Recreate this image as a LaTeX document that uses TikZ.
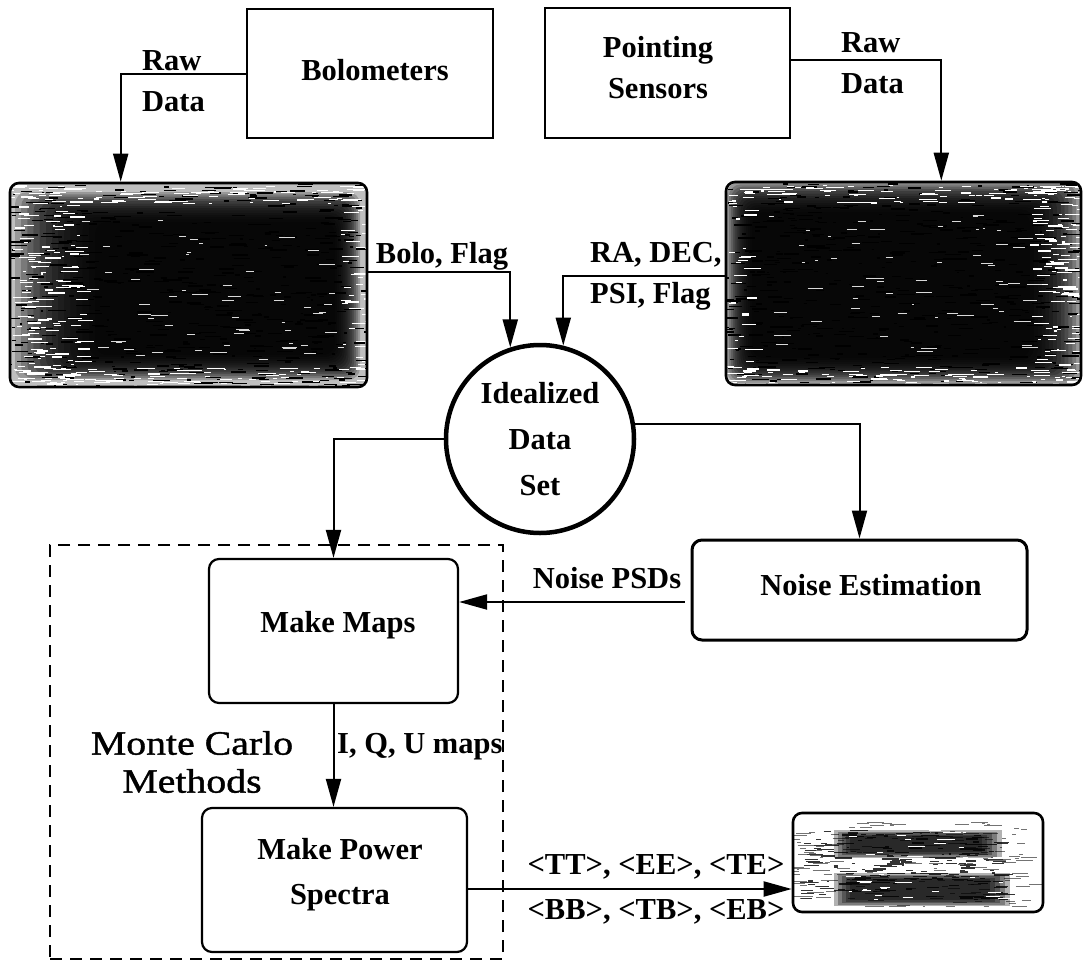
\documentclass[tikz,border=0pt]{standalone}
\usepackage{fontspec}
\setmainfont{Liberation Serif}
\newfontfamily\widefont[FakeStretch=1.17,FakeBold=1.2]{Liberation Serif}
\usetikzlibrary{arrows.meta,calc}
\newcommand\mystreaks[7]{%
  \foreach \k in {1,...,#1}{%
    \pgfmathsetmacro\sx{#2+#4*rnd}%
    \pgfmathsetmacro\sy{#3+#5*rnd}%
    \pgfmathsetmacro\sl{2+16*rnd}%
    \draw[#6,line width=#7] (\sx,\sy) -- ++(\sl,0);
  }}
% soft dark core: #1 x0, #2 y0, #3 x1, #4 y1 (core), #5 left spread, #6 top spread, #7 right spread, #8 bottom spread
\newcommand\mycore[8]{%
  \foreach \i in {0,...,13}{%
    \fill[black,opacity=0.2,rounded corners=12pt]
      ({#1-\i*#5/13},{#2-\i*#6/13}) rectangle ({#3+\i*#7/13},{#4+\i*#8/13});}}
\tikzset{
  plainbox/.style={draw, line width=1.8pt, rectangle, inner sep=0pt},
  rbox/.style={draw, line width=2.2pt, rounded corners=10pt, rectangle, inner sep=0pt},
  darkframe/.style={draw, line width=2.6pt, rounded corners=9pt, rectangle, inner sep=0pt},
  lbl/.style={font=\fontsize{30.5}{41}\selectfont\bfseries, inner sep=0pt, align=left},
  ctxt/.style={font=\fontsize{30.5}{41}\selectfont\bfseries, inner sep=0pt, align=center},
  arr/.style={line width=2pt, -{Triangle[length=28pt,width=15pt]}},
  mcframe/.style={draw, line width=2.3pt, dash pattern=on 12pt off 8pt, rectangle, inner sep=0pt},
}
\begin{document}
\begin{tikzpicture}[x=1pt,y=-1pt]
\pgfmathsetseed{17}
\useasboundingbox (0,0) rectangle (1085,962);
\fill[white] (0,0) rectangle (1085,962);

% ---------- texture of image 1 ----------
\begin{scope}
\clip[rounded corners=9pt] (10,183) rectangle (367,387);
\fill[black!25] (10,183) rectangle (367,387);
\mycore{95}{222}{335}{355}{80}{30}{25}{25}
\mystreaks{550}{2}{183}{365}{204}{black}{1.4pt}
\mystreaks{160}{10}{186}{70}{198}{white}{1.2pt}
\mystreaks{80}{10}{186}{357}{18}{white}{1.1pt}
\mystreaks{80}{10}{368}{330}{18}{white}{1.1pt}
\mystreaks{50}{340}{186}{27}{200}{white}{1.1pt}
\mystreaks{60}{80}{220}{260}{140}{white!85!black}{0.7pt}
\end{scope}

% ---------- texture of image 2 ----------
\begin{scope}
\clip[rounded corners=9pt] (726,182) rectangle (1081,385);
\fill[black!25] (726,182) rectangle (1081,385);
\mycore{752}{212}{1030}{358}{25}{30}{50}{25}
\mystreaks{550}{718}{182}{365}{203}{black}{1.4pt}
\mystreaks{140}{1030}{186}{55}{198}{white}{1.2pt}
\mystreaks{80}{726}{185}{355}{18}{white}{1.1pt}
\mystreaks{80}{726}{367}{355}{18}{white}{1.1pt}
\mystreaks{40}{726}{186}{22}{200}{white}{1.1pt}
\mystreaks{60}{760}{215}{270}{140}{white!85!black}{0.7pt}
\end{scope}

% ---------- texture of image 3 ----------
\begin{scope}
\clip[rounded corners=8pt] (793,813) rectangle (1043,912);
\fill[white] (793,813) rectangle (1043,912);
\mystreaks{180}{790}{822}{240}{85}{black!55}{1pt}
\mystreaks{200}{800}{830}{200}{70}{black!80}{1.2pt}
\foreach \i in {0,...,4}{\fill[black,opacity=0.3] (850-\i*4,836-\i*1.5) rectangle (982+\i*5,852+\i*1.5);}
\foreach \i in {0,...,4}{\fill[black,opacity=0.3] (850-\i*4,879-\i*1.5) rectangle (990+\i*5,900+\i*1.5);}
\mystreaks{40}{840}{830}{160}{75}{white}{0.8pt}
\end{scope}

% ---------- nodes ----------
\node[plainbox, minimum width=246, minimum height=129] (bolo) at (370,73.5) {};
\node[ctxt] (bolotxt) at (375,70) {Bolometers};
\node[plainbox, minimum width=245, minimum height=130] (point) at (667.5,73) {};
\node[ctxt] (pointtxt) at (658,68) {Pointing\\Sensors};

\node[darkframe, minimum width=357, minimum height=204] (d1) at (188.5,285) {};
\node[darkframe, minimum width=355, minimum height=203] (d2) at (903.5,283.5) {};
\node[darkframe, minimum width=250, minimum height=99] (d3) at (918,862.5) {};

\node[draw, circle, line width=4.5pt, minimum size=188pt, inner sep=0pt,
      font=\fontsize{30.5}{46}\selectfont\bfseries, align=center] (circ) at (540,439)
      {Idealized\\Data\\Set};

\node[mcframe, minimum width=453, minimum height=414] (mc) at (276.5,752) {};

\node[rbox, minimum width=249, minimum height=144] (maps) at (333.5,631) {};
\node[ctxt] (mapstxt) at (338,625) {Make Maps};
\node[rbox, line width=3pt, minimum width=335, minimum height=100] (noise) at (859.5,590) {};
\node[ctxt] (noisetxt) at (871,585) {Noise Estimation};
\node[rbox, minimum width=265, minimum height=144] (power) at (334.5,880) {};
\node[ctxt, font=\fontsize{30.5}{45}\selectfont\bfseries] (powertxt) at (340,874.5) {Make Power\\Spectra};

\node[inner sep=0pt, align=center, font=\fontsize{34}{38}\selectfont\widefont] (mctxt) at (192,762) {Monte Carlo\\Methods};

% ---------- labels ----------
\node[lbl, anchor=west] (rawL) at (142,81) {Raw\\Data};
\node[lbl, anchor=west] (rawR) at (841,63) {Raw\\Data};
\node[lbl] (bololbl) at (442,256) {Bolo, Flag};
\node[lbl, anchor=west] (radec) at (590,276) {RA, DEC,\\PSI, Flag};
\node[lbl] (psdlbl) at (607,578) {Noise PSDs};
\node[lbl, anchor=west] (iqu) at (337,747) {I, Q, U maps};
\node[lbl] (spec1) at (656,867) {<TT>, <EE>, <TE>};
\node[lbl] (spec2) at (656,912) {<BB>, <TB>, <EB>};

% ---------- connectors ----------
\draw[arr] ([yshift=13pt]point.east) -| ([xshift=-141pt]d2.north east);
\draw[arr] (bolo.west) -| ([xshift=112pt]d1.north west);
\draw[arr] ([yshift=13pt]d1.east) -| (circ.108.6);
\draw[arr] ([yshift=8pt]d2.west) -| (circ.76);
\draw[arr] (circ.west) -| (maps.north);
\draw[arr] (circ.9) -| (noise.north);
\draw[arr, shorten <=6pt] ([yshift=-12pt]noise.west) -- ([yshift=-12pt]noise.west -| maps.east);
\draw[arr] (maps.south) -- (maps.south |- power.north);
\draw[arr] ([yshift=-9pt]power.east) -- ([yshift=-9pt]power.east -| d3.west);
\end{tikzpicture}
\end{document}
